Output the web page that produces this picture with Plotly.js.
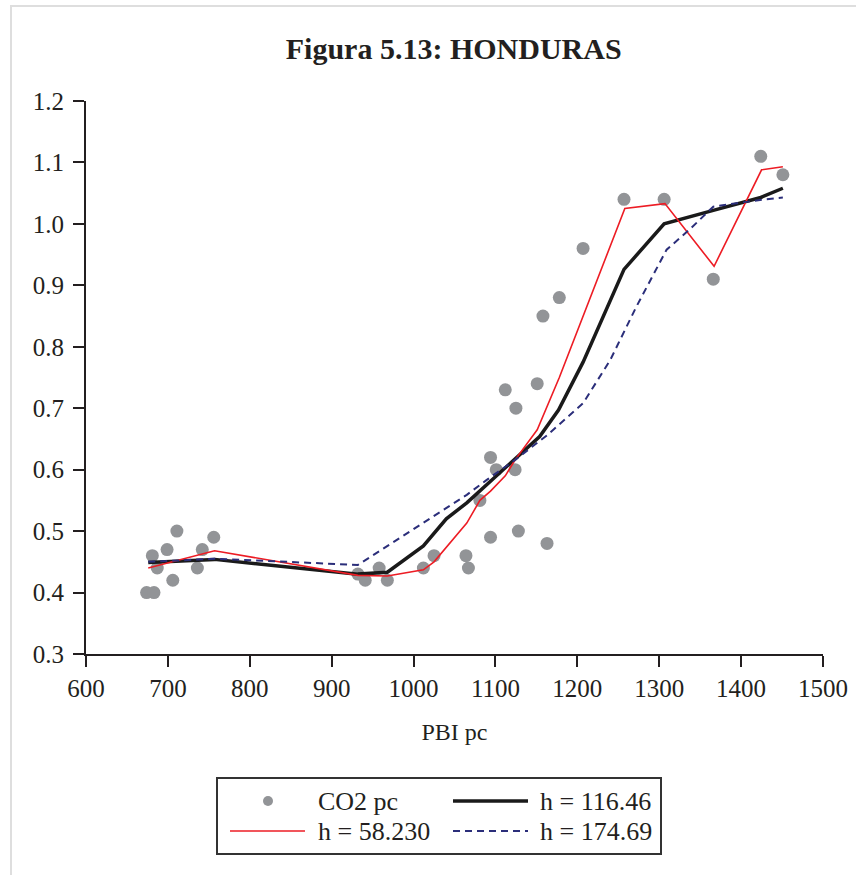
<!DOCTYPE html>
<html>
<head>
<meta charset="utf-8">
<script src="https://cdn.plot.ly/plotly-3.0.1.min.js"></script>
<style>
  html, body { margin: 0; padding: 0; background: #fff; }
  #wrap { position: relative; width: 856px; height: 875px; }
  #chart { width: 856px; height: 875px; }
  .frameL { position: absolute; left: 10px; top: 5px; width: 2px; height: 870px; background: #dedede; }
  .frameT { position: absolute; left: 10px; top: 5px; width: 846px; height: 2px; background: #dedede; }
</style>
</head>
<body>
<div id="wrap">
  <div id="chart"></div>
  <div class="frameL"></div>
  <div class="frameT"></div>
</div>
<script>
// Observed data: PBI pc vs CO2 pc
const pbiPc = [674, 683, 681, 687, 699, 706, 711, 736, 742, 756,
               932, 941, 958, 968, 1012, 1025, 1064, 1067, 1081, 1094,
               1128, 1112, 1151, 1125, 1094, 1101, 1124, 1163, 1158, 1178,
               1207, 1257, 1306, 1366, 1424, 1451];
const co2Pc = [0.40, 0.40, 0.46, 0.44, 0.47, 0.42, 0.50, 0.44, 0.47, 0.49,
               0.43, 0.42, 0.44, 0.42, 0.44, 0.46, 0.46, 0.44, 0.55, 0.49,
               0.50, 0.73, 0.74, 0.70, 0.62, 0.60, 0.60, 0.48, 0.85, 0.88,
               0.96, 1.04, 1.04, 0.91, 1.11, 1.08];

// Kernel fit, h = 116.46
const h116x = [676, 757, 932, 968, 1012, 1040, 1065, 1089, 1124, 1154, 1177, 1207, 1257, 1306, 1366, 1424, 1451];
const h116y = [0.449, 0.454, 0.430, 0.433, 0.476, 0.520, 0.546, 0.575, 0.619, 0.654, 0.697, 0.775, 0.926, 1.000, 1.022, 1.043, 1.058];

// Kernel fit, h = 58.230
const h58x = [676, 757, 932, 968, 1012, 1025, 1065, 1081, 1094, 1112, 1124, 1151, 1178, 1207, 1258, 1307, 1367, 1425, 1451];
const h58y = [0.440, 0.468, 0.428, 0.427, 0.437, 0.450, 0.513, 0.550, 0.565, 0.590, 0.616, 0.665, 0.750, 0.850, 1.025, 1.033, 0.931, 1.088, 1.093];

// Kernel fit, h = 174.69
const h174x = [676, 757, 932, 1012, 1065, 1089, 1124, 1163, 1207, 1240, 1272, 1309, 1338, 1366, 1423, 1451];
const h174y = [0.450, 0.455, 0.445, 0.513, 0.559, 0.583, 0.616, 0.656, 0.708, 0.778, 0.865, 0.958, 0.992, 1.028, 1.039, 1.043];

const xTicks = [600, 700, 800, 900, 1000, 1100, 1200, 1300, 1400, 1500];
const yTicks = [0.3, 0.4, 0.5, 0.6, 0.7, 0.8, 0.9, 1.0, 1.1, 1.2];

const seriesNames = ['CO2 pc', 'h = 116.46', 'h = 58.230', 'h = 174.69'];

const FONT = 'Liberation Serif, Times New Roman, serif';
const INK = '#231f20';
const COLORS = { dots: '#929497', h116: '#1a1a1a', h58: '#ed1c24', h174: '#2b2e7a' };
const DASH = '7px,5px';

const traces = [
  { x: pbiPc, y: co2Pc, mode: 'markers', type: 'scatter', name: seriesNames[0],
    marker: { color: COLORS.dots, size: 13 } },
  { x: h116x, y: h116y, mode: 'lines', type: 'scatter', name: seriesNames[1],
    line: { color: COLORS.h116, width: 3.5 } },
  { x: h58x, y: h58y, mode: 'lines', type: 'scatter', name: seriesNames[2],
    line: { color: COLORS.h58, width: 1.6 } },
  { x: h174x, y: h174y, mode: 'lines', type: 'scatter', name: seriesNames[3],
    line: { color: COLORS.h174, width: 2, dash: DASH } }
];

// Plot area in pixels (for a drawn legend box below the axes)
const M = { l: 86, r: 33, t: 101, b: 221 };
const W = 856, H = 875;
const pw = W - M.l - M.r, ph = H - M.t - M.b;
const px2x = px => (px - M.l) / pw;
const py2y = py => (H - M.b - py) / ph;

const row1 = 801, row2 = 831;
const shapes = [
  { type: 'rect', xref: 'paper', yref: 'paper', x0: px2x(217), x1: px2x(661), y0: py2y(854), y1: py2y(778),
    line: { color: '#333333', width: 2 }, fillcolor: 'rgba(0,0,0,0)' },
  { type: 'circle', xref: 'paper', yref: 'paper', x0: px2x(263), x1: px2x(273), y0: py2y(row1 + 5), y1: py2y(row1 - 5),
    line: { width: 0 }, fillcolor: COLORS.dots },
  { type: 'line', xref: 'paper', yref: 'paper', x0: px2x(453), x1: px2x(528), y0: py2y(row1), y1: py2y(row1),
    line: { color: COLORS.h116, width: 3.5 } },
  { type: 'line', xref: 'paper', yref: 'paper', x0: px2x(230), x1: px2x(305), y0: py2y(row2), y1: py2y(row2),
    line: { color: COLORS.h58, width: 1.6 } },
  { type: 'line', xref: 'paper', yref: 'paper', x0: px2x(453), x1: px2x(528), y0: py2y(row2), y1: py2y(row2),
    line: { color: COLORS.h174, width: 2, dash: DASH } }
];
const legFont = { family: FONT, size: 26, color: INK };
const annotations = [
  { text: seriesNames[0], x: px2x(316), y: py2y(row1) },
  { text: seriesNames[1], x: px2x(538), y: py2y(row1) },
  { text: seriesNames[2], x: px2x(316), y: py2y(row2) },
  { text: seriesNames[3], x: px2x(538), y: py2y(row2) }
].map(a => Object.assign(a, { xref: 'paper', yref: 'paper', xanchor: 'left', yanchor: 'middle',
                              showarrow: false, font: legFont }));

const layout = {
  width: W, height: H,
  paper_bgcolor: '#ffffff', plot_bgcolor: '#ffffff',
  margin: { l: M.l, r: M.r, t: M.t, b: M.b, pad: 0 },
  font: { family: FONT, size: 24, color: INK },
  title: { text: '<b>Figura 5.13: HONDURAS</b>', x: 0.53, xanchor: 'center', y: 0.945, yanchor: 'middle',
           font: { family: FONT, size: 30, color: INK } },
  xaxis: {
    range: [600, 1500], tickvals: xTicks, ticktext: xTicks.map(String), automargin: false,
    showgrid: false, zeroline: false, showline: true, linecolor: INK, linewidth: 2,
    ticks: 'outside', ticklen: 11, tickwidth: 2, tickcolor: INK,
    tickfont: { family: FONT, size: 25, color: INK },
    title: { text: 'PBI pc', font: { family: FONT, size: 24, color: INK }, standoff: 22 }
  },
  yaxis: {
    range: [0.3, 1.2], tickvals: yTicks, ticktext: yTicks.map(v => v.toFixed(1)), automargin: false,
    showgrid: false, zeroline: false, showline: true, linecolor: INK, linewidth: 2,
    ticks: 'outside', ticklen: 11, tickwidth: 2, tickcolor: INK, ticklabelstandoff: 4,
    tickfont: { family: FONT, size: 25, color: INK }
  },
  showlegend: false,
  shapes: shapes,
  annotations: annotations
};

Plotly.newPlot('chart', traces, layout, { displayModeBar: false, staticPlot: true });
</script>
</body>
</html>
